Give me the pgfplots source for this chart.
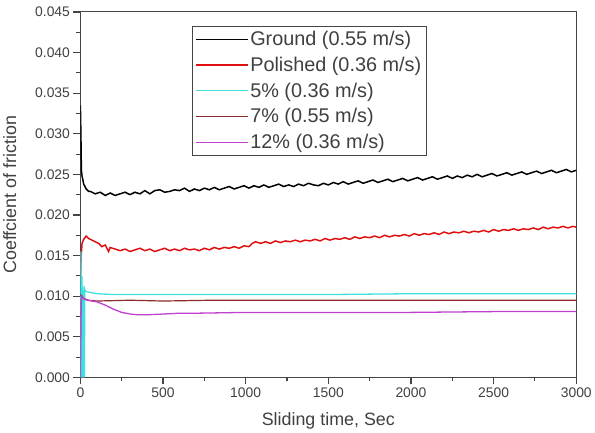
\documentclass[border=0pt]{standalone}
\usepackage{fontspec}
\setmainfont{Liberation Sans}
\usepackage{pgfplots}
\pgfplotsset{compat=1.18}
\definecolor{axgray}{HTML}{454545}
\definecolor{ticktext}{HTML}{404040}
\definecolor{cground}{HTML}{000000}
\definecolor{cpol}{HTML}{E01010}
\definecolor{cfive}{HTML}{40E0E0}
\definecolor{cseven}{HTML}{8B2A2A}
\definecolor{ctwelve}{HTML}{C040D0}
\begin{document}
\begin{tikzpicture}
\begin{axis}[
  scale only axis,
  width=498bp, height=367bp,
  xmin=0, xmax=3000, ymin=0, ymax=0.045,
  xtick={0,500,...,3000},
  ytick={0,0.005,...,0.045},
  minor x tick num=1, minor y tick num=1,
  tick align=outside,
  xtick pos=bottom, ytick pos=left,
  major tick length=7bp, minor tick length=4bp,
  every major tick/.style={draw=axgray, line width=1.3pt},
  every minor tick/.style={draw=axgray, line width=1.1pt},
  axis line style={draw=axgray, line width=1.1pt},
  /pgf/number format/assume math mode=true,
  /pgf/number format/1000 sep={},
  yticklabel style={/pgf/number format/fixed, /pgf/number format/fixed zerofill, /pgf/number format/precision=3},
  scaled y ticks=false,
  tick label style={font=\fontsize{14}{16}\selectfont, text=ticktext},
  xlabel={Sliding time, Sec},
  ylabel={Coeffcient of friction},
  label style={font=\fontsize{18}{20}\selectfont, text=ticktext},
  xlabel style={yshift=-8bp},
  ylabel style={yshift=12bp},
  legend style={at={(0.225,0.962)}, anchor=north west, draw=axgray, line width=0.8pt,
    font=\fontsize{20}{24}\selectfont, text=ticktext, inner xsep=3bp, inner ysep=3bp,
    row sep=6bp, cells={anchor=west}},
  legend image code/.code={\draw[#1, line width=1.2pt] (0bp,0bp) -- (52bp,0bp);},
]
\addplot[cground, line width=1.5pt] coordinates {
(0,0.0335) (3,0.0300) (6,0.0255) (10,0.0248) (20,0.0238) (35,0.0232) (50,0.0229)
(60,0.0229) (90,0.0226) (120,0.0228) (150,0.0224) (180,0.0227) (210,0.0224) (240,0.0226)
(270,0.0228) (300,0.0225) (330,0.0228) (360,0.0226) (390,0.0230) (420,0.0226) (450,0.0230)
(480,0.0231) (510,0.0228) (540,0.0229) (570,0.0231) (600,0.0230) (630,0.0233) (660,0.0229)
(690,0.0232) (720,0.0230) (750,0.0233) (780,0.0231) (810,0.0234) (840,0.0231) (870,0.0233)
(900,0.0235) (930,0.0232) (960,0.0234) (990,0.0236) (1020,0.0233) (1050,0.0236) (1080,0.0234)
(1110,0.0237) (1140,0.0234) (1170,0.0236) (1200,0.0238) (1230,0.0235) (1260,0.0237) (1290,0.0235)
(1320,0.0238) (1350,0.0236) (1380,0.0239) (1410,0.0237) (1440,0.0236) (1470,0.0239) (1500,0.0237)
(1530,0.0240) (1560,0.0238) (1590,0.0241) (1620,0.0238) (1650,0.0240) (1680,0.0242) (1710,0.0239)
(1740,0.0241) (1770,0.0243) (1800,0.0240) (1830,0.0242) (1860,0.0244) (1890,0.0241) (1920,0.0243)
(1950,0.0245) (1980,0.0242) (2010,0.0244) (2040,0.0246) (2070,0.0243) (2100,0.0245) (2130,0.0247)
(2160,0.0244) (2190,0.0246) (2220,0.0248) (2250,0.0245) (2280,0.0248) (2310,0.0246) (2340,0.0249)
(2370,0.0247) (2400,0.0250) (2430,0.0247) (2460,0.0249) (2490,0.0251) (2520,0.0248) (2550,0.0250)
(2580,0.0252) (2610,0.0249) (2640,0.0251) (2670,0.0253) (2700,0.0250) (2730,0.0252) (2760,0.0254)
(2790,0.0251) (2820,0.0253) (2850,0.0255) (2880,0.0252) (2910,0.0254) (2940,0.0256) (2970,0.0253)
(3000,0.0255)
};
\addlegendentry{Ground (0.55 m/s)}
\addplot[cpol, line width=1.5pt] coordinates {
(0,0.0120) (5,0.0150) (10,0.0165) (20,0.0170) (35,0.0174) (50,0.0171) (70,0.0169) (90,0.0167)
(110,0.0165) (130,0.0161) (150,0.0163) (170,0.0155) (180,0.0160) (210,0.0158) (240,0.0156)
(270,0.0158) (300,0.0155) (330,0.0157) (360,0.0159) (390,0.0156) (420,0.0158) (450,0.0155)
(480,0.0157) (510,0.0159) (540,0.0156) (570,0.0158) (600,0.0156) (630,0.0159) (660,0.0157)
(690,0.0158) (720,0.0156) (750,0.0159) (780,0.0157) (810,0.0160) (840,0.0158) (870,0.0160)
(900,0.0159) (930,0.0161) (960,0.0159) (990,0.0162) (1020,0.0161) (1040,0.0165) (1060,0.0167)
(1090,0.0165) (1120,0.0167) (1150,0.0165) (1180,0.0168) (1210,0.0166) (1240,0.0168) (1270,0.0167)
(1300,0.0169) (1330,0.0167) (1360,0.0169) (1390,0.0168) (1420,0.0170) (1450,0.0168) (1480,0.0171)
(1510,0.0169) (1540,0.0171) (1570,0.0170) (1600,0.0172) (1630,0.0170) (1660,0.0173) (1690,0.0171)
(1720,0.0173) (1750,0.0172) (1780,0.0174) (1810,0.0172) (1840,0.0175) (1870,0.0173) (1900,0.0175)
(1930,0.0174) (1960,0.0176) (1990,0.0174) (2020,0.0177) (2050,0.0175) (2080,0.0177) (2110,0.0176)
(2140,0.0178) (2170,0.0176) (2200,0.0179) (2230,0.0177) (2260,0.0179) (2290,0.0178) (2320,0.0180)
(2350,0.0178) (2380,0.0180) (2410,0.0179) (2440,0.0181) (2470,0.0179) (2500,0.0182) (2530,0.0180)
(2560,0.0182) (2590,0.0181) (2620,0.0183) (2650,0.0181) (2680,0.0183) (2710,0.0182) (2740,0.0184)
(2770,0.0182) (2800,0.0185) (2830,0.0183) (2860,0.0185) (2890,0.0184) (2920,0.0186) (2950,0.0184)
(2980,0.0186) (3000,0.0185)
};
\addlegendentry{Polished (0.36 m/s)}
\addplot[cfive, line width=1.3pt] coordinates {
(0,0.0000) (3,0.0155) (6,0.0000) (9,0.0125) (12,0.0000) (15,0.0112) (18,0.0000) (21,0.0108)
(24,0.0000) (27,0.0108) (30,0.0106) (50,0.0105) (100,0.0103) (200,0.0102) (500,0.0102)
(1000,0.0102) (1500,0.0102) (2000,0.0103) (2500,0.0103) (3000,0.0103)
};
\addlegendentry{5\% (0.36 m/s)}
\addplot[cseven, line width=1.2pt] coordinates {
(0,0.0102) (20,0.0097) (50,0.0095) (100,0.0094) (300,0.0095) (500,0.0094) (800,0.0095)
(1000,0.0095) (1500,0.0095) (2000,0.0095) (2500,0.0095) (3000,0.0095)
};
\addlegendentry{7\% (0.55 m/s)}
\addplot[ctwelve, line width=1.3pt] coordinates {
(0,0.0000) (5,0.0090) (10,0.0100) (20,0.0097) (40,0.0095) (100,0.0093) (150,0.0089)
(200,0.0084) (250,0.0080) (300,0.0078) (350,0.0077) (400,0.0077) (500,0.0078) (600,0.0079)
(700,0.0079) (1000,0.0080) (1500,0.0080) (2000,0.0080) (2500,0.0081) (3000,0.0081)
};
\addlegendentry{12\% (0.36 m/s)}
\end{axis}
\path ([yshift=12bp]current axis.north);
\end{tikzpicture}
\end{document}
